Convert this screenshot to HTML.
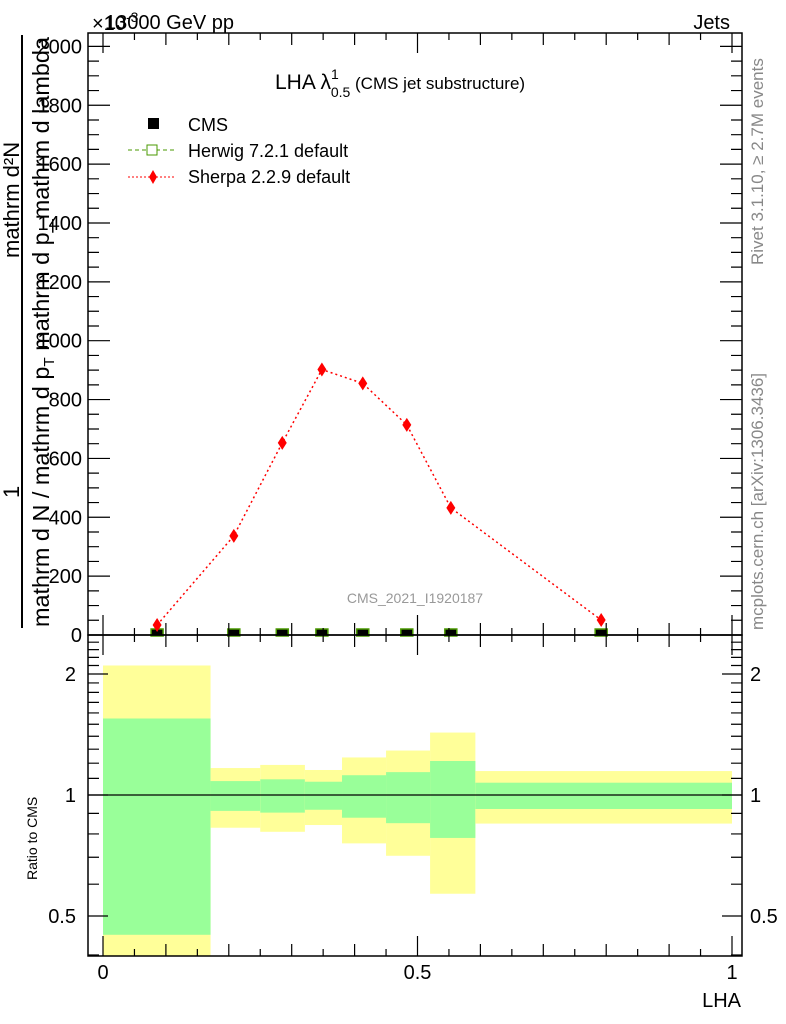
<!DOCTYPE html>
<html><head><meta charset="utf-8"><style>
body{margin:0;background:#fff}
svg{display:block;font-family:"Liberation Sans",sans-serif}
</style></head><body>
<svg id="c" width="786" height="1024" viewBox="0 0 786 1024">
<g id="bands"></g>
<line x1="88" y1="795" x2="742" y2="795" stroke="#000" stroke-width="1.3"/>
<g id="marks"></g>
<g id="axes" stroke="#000" fill="none"></g>
<g id="labels"></g>
<text x="105" y="29" font-size="20">13000 GeV pp</text>
<text x="92" y="30" font-size="20">×10<tspan font-size="14" dy="-8">-3</tspan></text>
<text x="730" y="29" font-size="20" text-anchor="end">Jets</text>
<text x="275" y="89" font-size="21">LHA λ<tspan font-size="14" dy="-10">1</tspan><tspan font-size="14" dx="-8" dy="18">0.5</tspan><tspan font-size="17" dy="-8"> (CMS jet substructure)</tspan></text>
<g font-size="18">
<rect x="148" y="118" width="11" height="11" fill="#000"/>
<text x="188" y="131">CMS</text>
<line x1="128" y1="150" x2="175" y2="150" stroke="#4a9a00" stroke-dasharray="4,3"/>
<rect x="147" y="145" width="10" height="10" fill="#fff" stroke="#4a9a00"/>
<text x="188" y="157">Herwig 7.2.1 default</text>
<line x1="128" y1="177" x2="175" y2="177" stroke="red" stroke-dasharray="2,2"/>
<path d="M153 170 L157 177 L153 184 L149 177Z" fill="red"/>
<text x="188" y="183">Sherpa 2.2.9 default</text>
</g>
<text x="415" y="603" font-size="14" fill="#999" text-anchor="middle">CMS_2021_I1920187</text>
<text transform="translate(763,265) rotate(-90)" font-size="17" fill="#888">Rivet 3.1.10, ≥ 2.7M events</text>
<text transform="translate(763,630) rotate(-90)" font-size="17" fill="#888">mcplots.cern.ch [arXiv:1306.3436]</text>
<line x1="22" y1="35" x2="22" y2="628" stroke="#000" stroke-width="2"/>
<text transform="translate(19,498) rotate(-90)" font-size="22">1</text>
<text transform="translate(19,258) rotate(-90)" font-size="22">mathrm d²N</text>
<text transform="translate(49,627) rotate(-90)" font-size="23" textLength="590" lengthAdjust="spacingAndGlyphs">mathrm d N / mathrm d p<tspan font-size="15" dy="5">T</tspan><tspan dy="-5"> mathrm d p_mathrm d lambda</tspan></text>
<text transform="translate(37,880) rotate(-90)" font-size="14">Ratio to CMS</text>
<text x="741" y="1007" font-size="20" text-anchor="end">LHA</text>
</svg>
<script>
const binEdges=[0,0.171,0.25,0.321,0.38,0.45,0.52,0.592,1.0];
const greenHi=[1.55,1.083,1.094,1.079,1.12,1.14,1.215,1.073];
const greenLo=[0.449,0.913,0.904,0.919,0.878,0.851,0.782,0.923];
const yellowHi=[2.10,1.167,1.188,1.154,1.24,1.29,1.43,1.147];
const yellowLo=[0.3,0.829,0.81,0.842,0.758,0.706,0.568,0.849];
const sherpaX=[0.086,0.208,0.285,0.348,0.413,0.483,0.553,0.792];
const sherpaY=[34,337,653,902,855,714,432,51];
const sherpaErr=[8,10,14,18,18,15,8,5];
const cmsY=[0,0,0,0,0,0,0,0];
const mainTicks=[0,200,400,600,800,1000,1200,1400,1600,1800,2000];
const ratioTicks=[0.5,1,2];
const xTicks=[0,0.5,1];
const NS="http://www.w3.org/2000/svg";
const X0=88,X1=742,MT=33,MB=635,RB=956;
const xs=v=>103+629*v;
const ym=v=>635-0.2943*v;
const yr=v=>795-121*Math.log2(v);
function mk(p,t,a){const e=document.createElementNS(NS,t);for(const k in a)e.setAttribute(k,a[k]);p.appendChild(e);return e;}
const bands=document.getElementById('bands'),marks=document.getElementById('marks'),axes=document.getElementById('axes'),labels=document.getElementById('labels');
const clamp=y=>Math.max(636,Math.min(RB,y));
for(let i=0;i<binEdges.length-1;i++){
 const x=xs(binEdges[i]),w=xs(binEdges[i+1])-x;
 const y1=clamp(yr(yellowHi[i])),y2=clamp(yr(yellowLo[i]));
 const r=mk(bands,'rect',{x:x,y:y1,width:w,height:y2-y1,fill:'#ffff99'});
 
 
 const g1=clamp(yr(greenHi[i])),g2=clamp(yr(greenLo[i]));
 const g=mk(bands,'rect',{x:x,y:g1,width:w,height:g2-g1,fill:'#99ff99'});
 
 
}
let d='';
sherpaX.forEach((v,i)=>{d+=(i?'L':'M')+xs(v)+' '+ym(sherpaY[i]);});
const sl=mk(marks,'path',{d:d,fill:'none',stroke:'red','stroke-width':1.5,'stroke-dasharray':'2,3'});


sherpaX.forEach((v,i)=>{
 const cx=xs(v);
 const c=mk(marks,'rect',{x:cx-6,y:ym(cmsY[i])-6,width:12,height:7,fill:'#000',stroke:'#4a9a00','stroke-width':1.5});
 
 
 const cy=ym(sherpaY[i]);
 const e=mk(marks,'line',{x1:cx,x2:cx,y1:ym(sherpaY[i]+sherpaErr[i]),y2:ym(sherpaY[i]-sherpaErr[i]),stroke:'red','stroke-width':1.5});
 
 
 const p=mk(marks,'path',{d:`M${cx} ${cy-7}L${cx+4.5} ${cy}L${cx} ${cy+7}L${cx-4.5} ${cy}Z`,fill:'red'});
 
 
});
const f1=mk(axes,'rect',{x:X0,y:MT,width:X1-X0,height:MB-MT,'stroke-width':1.5});


const f2=mk(axes,'rect',{x:X0,y:MB,width:X1-X0,height:RB-MB,'stroke-width':1.5});


let td='';
for(let v=0;v<=2000;v+=50){const y=ym(v);if(y<MT)continue;const L=v%200===0?22:11;td+=`M${X0} ${y}h${L}M${X1} ${y}h${-L}`;}
for(let k=0;k<=20;k++){const v=k*0.05;const x=xs(v);const L=k%10===0?20:(k%2===0?12:7);td+=`M${x} ${MB}v${-L}M${x} ${MT}v${L}M${x} ${RB}v${-L}M${x} ${MB}v${L}`;}
[0.4,0.5,0.6,0.7,0.8,0.9,1,1.1,1.2,1.3,1.4,1.5,1.6,1.7,1.8,1.9,2,2.1,2.2,2.3,2.4].forEach(v=>{const y=yr(v);if(y<MB||y>RB)return;const L=[0.5,1,2].includes(v)?20:11;td+=`M${X0} ${y}h${L}M${X1} ${y}h${-L}`;});
const tk=mk(axes,'path',{d:td,'stroke-width':1.2});


mainTicks.forEach(v=>{const t=mk(labels,'text',{x:82,y:ym(v)+7,'font-size':20,'text-anchor':'end'});t.textContent=v;
 
 });
ratioTicks.forEach(v=>{const a=mk(labels,'text',{x:76,y:yr(v)+7,'font-size':20,'text-anchor':'end'});a.textContent=v;
 
 
 const b=mk(labels,'text',{x:750,y:yr(v)+7,'font-size':20});b.textContent=v;
 
 });
xTicks.forEach(v=>{const t=mk(labels,'text',{x:xs(v),y:979,'font-size':20,'text-anchor':'middle'});t.textContent=v;
 
 });
</script>
</body></html>
